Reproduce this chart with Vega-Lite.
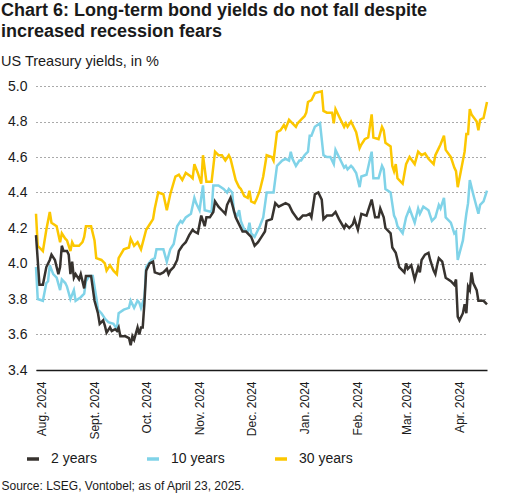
{
"$schema": "https://vega.github.io/schema/vega-lite/v6.json",
"width": 451, "height": 284,
"autosize": {"type": "none"},
"padding": {"left": 36, "top": 86, "right": 42, "bottom": 123},
"background": "white",
"title": {"text": ["Chart 6: Long-term bond yields do not fall despite", "increased recession fears"], "subtitle": "US Treasury yields, in %", "anchor": "start", "frame": "group", "dx": -35, "font": "Liberation Sans", "fontSize": 18, "fontWeight": "bold", "color": "#1a1a1a", "lineHeight": 21, "subtitleFont": "Liberation Sans", "subtitleFontSize": 14.5, "subtitleColor": "#1a1a1a", "subtitlePadding": 14, "offset": 11},
"config": {"view": {"stroke": null}, "font": "Liberation Sans"},
"datasets": {"y": [
{"date":"2024-07-29","series":"30 years","yield":4.28},{"date":"2024-07-30","series":"30 years","yield":4.10},{"date":"2024-08-02","series":"30 years","yield":4.07},{"date":"2024-08-04","series":"30 years","yield":4.19},{"date":"2024-08-06","series":"30 years","yield":4.29},{"date":"2024-08-07","series":"30 years","yield":4.23},{"date":"2024-08-10","series":"30 years","yield":4.21},{"date":"2024-08-12","series":"30 years","yield":4.12},{"date":"2024-08-13","series":"30 years","yield":4.17},{"date":"2024-08-15","series":"30 years","yield":4.14},{"date":"2024-08-16","series":"30 years","yield":4.13},{"date":"2024-08-18","series":"30 years","yield":4.07},{"date":"2024-08-19","series":"30 years","yield":4.12},{"date":"2024-08-20","series":"30 years","yield":4.10},{"date":"2024-08-23","series":"30 years","yield":4.10},{"date":"2024-08-25","series":"30 years","yield":4.12},{"date":"2024-08-26","series":"30 years","yield":4.15},{"date":"2024-08-27","series":"30 years","yield":4.21},{"date":"2024-08-30","series":"30 years","yield":4.21},{"date":"2024-09-01","series":"30 years","yield":4.13},{"date":"2024-09-02","series":"30 years","yield":4.03},{"date":"2024-09-05","series":"30 years","yield":4.02},{"date":"2024-09-07","series":"30 years","yield":4.00},{"date":"2024-09-08","series":"30 years","yield":3.96},{"date":"2024-09-10","series":"30 years","yield":3.99},{"date":"2024-09-12","series":"30 years","yield":3.96},{"date":"2024-09-14","series":"30 years","yield":3.94},{"date":"2024-09-15","series":"30 years","yield":4.03},{"date":"2024-09-18","series":"30 years","yield":4.08},{"date":"2024-09-21","series":"30 years","yield":4.09},{"date":"2024-09-22","series":"30 years","yield":4.14},{"date":"2024-09-24","series":"30 years","yield":4.10},{"date":"2024-09-26","series":"30 years","yield":4.12},{"date":"2024-09-28","series":"30 years","yield":4.08},{"date":"2024-10-01","series":"30 years","yield":4.19},{"date":"2024-10-03","series":"30 years","yield":4.22},{"date":"2024-10-05","series":"30 years","yield":4.25},{"date":"2024-10-06","series":"30 years","yield":4.31},{"date":"2024-10-08","series":"30 years","yield":4.40},{"date":"2024-10-11","series":"30 years","yield":4.39},{"date":"2024-10-13","series":"30 years","yield":4.30},{"date":"2024-10-15","series":"30 years","yield":4.39},{"date":"2024-10-18","series":"30 years","yield":4.49},{"date":"2024-10-20","series":"30 years","yield":4.50},{"date":"2024-10-22","series":"30 years","yield":4.47},{"date":"2024-10-24","series":"30 years","yield":4.51},{"date":"2024-10-27","series":"30 years","yield":4.49},{"date":"2024-10-28","series":"30 years","yield":4.48},{"date":"2024-10-29","series":"30 years","yield":4.56},{"date":"2024-10-31","series":"30 years","yield":4.51},{"date":"2024-11-02","series":"30 years","yield":4.45},{"date":"2024-11-03","series":"30 years","yield":4.61},{"date":"2024-11-05","series":"30 years","yield":4.46},{"date":"2024-11-08","series":"30 years","yield":4.46},{"date":"2024-11-10","series":"30 years","yield":4.63},{"date":"2024-11-12","series":"30 years","yield":4.61},{"date":"2024-11-14","series":"30 years","yield":4.61},{"date":"2024-11-16","series":"30 years","yield":4.58},{"date":"2024-11-18","series":"30 years","yield":4.61},{"date":"2024-11-19","series":"30 years","yield":4.59},{"date":"2024-11-22","series":"30 years","yield":4.47},{"date":"2024-11-24","series":"30 years","yield":4.43},{"date":"2024-11-25","series":"30 years","yield":4.42},{"date":"2024-11-27","series":"30 years","yield":4.38},{"date":"2024-11-29","series":"30 years","yield":4.37},{"date":"2024-11-30","series":"30 years","yield":4.41},{"date":"2024-12-01","series":"30 years","yield":4.35},{"date":"2024-12-03","series":"30 years","yield":4.34},{"date":"2024-12-04","series":"30 years","yield":4.36},{"date":"2024-12-06","series":"30 years","yield":4.41},{"date":"2024-12-08","series":"30 years","yield":4.49},{"date":"2024-12-10","series":"30 years","yield":4.61},{"date":"2024-12-13","series":"30 years","yield":4.60},{"date":"2024-12-14","series":"30 years","yield":4.58},{"date":"2024-12-16","series":"30 years","yield":4.74},{"date":"2024-12-18","series":"30 years","yield":4.75},{"date":"2024-12-20","series":"30 years","yield":4.78},{"date":"2024-12-21","series":"30 years","yield":4.76},{"date":"2024-12-23","series":"30 years","yield":4.81},{"date":"2024-12-25","series":"30 years","yield":4.79},{"date":"2024-12-27","series":"30 years","yield":4.77},{"date":"2024-12-28","series":"30 years","yield":4.79},{"date":"2024-12-30","series":"30 years","yield":4.81},{"date":"2025-01-01","series":"30 years","yield":4.83},{"date":"2025-01-02","series":"30 years","yield":4.85},{"date":"2025-01-03","series":"30 years","yield":4.91},{"date":"2025-01-05","series":"30 years","yield":4.92},{"date":"2025-01-07","series":"30 years","yield":4.96},{"date":"2025-01-11","series":"30 years","yield":4.97},{"date":"2025-01-12","series":"30 years","yield":4.86},{"date":"2025-01-14","series":"30 years","yield":4.85},{"date":"2025-01-17","series":"30 years","yield":4.85},{"date":"2025-01-18","series":"30 years","yield":4.79},{"date":"2025-01-19","series":"30 years","yield":4.87},{"date":"2025-01-21","series":"30 years","yield":4.83},{"date":"2025-01-24","series":"30 years","yield":4.77},{"date":"2025-01-25","series":"30 years","yield":4.79},{"date":"2025-01-26","series":"30 years","yield":4.77},{"date":"2025-01-28","series":"30 years","yield":4.80},{"date":"2025-01-29","series":"30 years","yield":4.78},{"date":"2025-01-31","series":"30 years","yield":4.74},{"date":"2025-02-02","series":"30 years","yield":4.65},{"date":"2025-02-03","series":"30 years","yield":4.67},{"date":"2025-02-05","series":"30 years","yield":4.70},{"date":"2025-02-07","series":"30 years","yield":4.71},{"date":"2025-02-09","series":"30 years","yield":4.84},{"date":"2025-02-10","series":"30 years","yield":4.71},{"date":"2025-02-13","series":"30 years","yield":4.70},{"date":"2025-02-15","series":"30 years","yield":4.77},{"date":"2025-02-16","series":"30 years","yield":4.75},{"date":"2025-02-17","series":"30 years","yield":4.68},{"date":"2025-02-20","series":"30 years","yield":4.66},{"date":"2025-02-21","series":"30 years","yield":4.55},{"date":"2025-02-22","series":"30 years","yield":4.52},{"date":"2025-02-23","series":"30 years","yield":4.56},{"date":"2025-02-24","series":"30 years","yield":4.48},{"date":"2025-02-26","series":"30 years","yield":4.46},{"date":"2025-02-27","series":"30 years","yield":4.45},{"date":"2025-03-01","series":"30 years","yield":4.56},{"date":"2025-03-03","series":"30 years","yield":4.60},{"date":"2025-03-06","series":"30 years","yield":4.56},{"date":"2025-03-08","series":"30 years","yield":4.63},{"date":"2025-03-10","series":"30 years","yield":4.61},{"date":"2025-03-12","series":"30 years","yield":4.62},{"date":"2025-03-14","series":"30 years","yield":4.59},{"date":"2025-03-17","series":"30 years","yield":4.56},{"date":"2025-03-18","series":"30 years","yield":4.61},{"date":"2025-03-20","series":"30 years","yield":4.65},{"date":"2025-03-21","series":"30 years","yield":4.67},{"date":"2025-03-23","series":"30 years","yield":4.72},{"date":"2025-03-24","series":"30 years","yield":4.64},{"date":"2025-03-27","series":"30 years","yield":4.60},{"date":"2025-03-29","series":"30 years","yield":4.54},{"date":"2025-03-30","series":"30 years","yield":4.52},{"date":"2025-03-31","series":"30 years","yield":4.43},{"date":"2025-04-02","series":"30 years","yield":4.53},{"date":"2025-04-04","series":"30 years","yield":4.63},{"date":"2025-04-05","series":"30 years","yield":4.73},{"date":"2025-04-06","series":"30 years","yield":4.73},{"date":"2025-04-07","series":"30 years","yield":4.87},{"date":"2025-04-08","series":"30 years","yield":4.84},{"date":"2025-04-11","series":"30 years","yield":4.80},{"date":"2025-04-12","series":"30 years","yield":4.75},{"date":"2025-04-13","series":"30 years","yield":4.81},{"date":"2025-04-15","series":"30 years","yield":4.82},{"date":"2025-04-17","series":"30 years","yield":4.91},
{"date":"2024-07-29","series":"10 years","yield":3.98},{"date":"2024-07-30","series":"10 years","yield":3.80},{"date":"2024-08-02","series":"10 years","yield":3.79},{"date":"2024-08-04","series":"10 years","yield":3.89},{"date":"2024-08-05","series":"10 years","yield":3.90},{"date":"2024-08-06","series":"10 years","yield":3.99},{"date":"2024-08-08","series":"10 years","yield":3.94},{"date":"2024-08-10","series":"10 years","yield":3.92},{"date":"2024-08-12","series":"10 years","yield":3.85},{"date":"2024-08-13","series":"10 years","yield":3.91},{"date":"2024-08-15","series":"10 years","yield":3.89},{"date":"2024-08-16","series":"10 years","yield":3.87},{"date":"2024-08-18","series":"10 years","yield":3.80},{"date":"2024-08-20","series":"10 years","yield":3.85},{"date":"2024-08-21","series":"10 years","yield":3.79},{"date":"2024-08-24","series":"10 years","yield":3.81},{"date":"2024-08-26","series":"10 years","yield":3.83},{"date":"2024-08-27","series":"10 years","yield":3.90},{"date":"2024-08-29","series":"10 years","yield":3.93},{"date":"2024-08-31","series":"10 years","yield":3.93},{"date":"2024-09-02","series":"10 years","yield":3.81},{"date":"2024-09-03","series":"10 years","yield":3.74},{"date":"2024-09-05","series":"10 years","yield":3.72},{"date":"2024-09-07","series":"10 years","yield":3.69},{"date":"2024-09-09","series":"10 years","yield":3.67},{"date":"2024-09-12","series":"10 years","yield":3.66},{"date":"2024-09-14","series":"10 years","yield":3.63},{"date":"2024-09-15","series":"10 years","yield":3.72},{"date":"2024-09-18","series":"10 years","yield":3.74},{"date":"2024-09-21","series":"10 years","yield":3.75},{"date":"2024-09-22","series":"10 years","yield":3.79},{"date":"2024-09-24","series":"10 years","yield":3.75},{"date":"2024-09-26","series":"10 years","yield":3.79},{"date":"2024-09-27","series":"10 years","yield":3.78},{"date":"2024-09-28","series":"10 years","yield":3.75},{"date":"2024-09-30","series":"10 years","yield":3.81},{"date":"2024-10-01","series":"10 years","yield":3.98},{"date":"2024-10-04","series":"10 years","yield":4.02},{"date":"2024-10-06","series":"10 years","yield":4.03},{"date":"2024-10-07","series":"10 years","yield":4.08},{"date":"2024-10-11","series":"10 years","yield":4.08},{"date":"2024-10-13","series":"10 years","yield":4.01},{"date":"2024-10-15","series":"10 years","yield":4.08},{"date":"2024-10-17","series":"10 years","yield":4.11},{"date":"2024-10-19","series":"10 years","yield":4.21},{"date":"2024-10-21","series":"10 years","yield":4.24},{"date":"2024-10-22","series":"10 years","yield":4.23},{"date":"2024-10-24","series":"10 years","yield":4.26},{"date":"2024-10-27","series":"10 years","yield":4.28},{"date":"2024-10-29","series":"10 years","yield":4.37},{"date":"2024-10-30","series":"10 years","yield":4.34},{"date":"2024-11-01","series":"10 years","yield":4.30},{"date":"2024-11-03","series":"10 years","yield":4.44},{"date":"2024-11-04","series":"10 years","yield":4.30},{"date":"2024-11-08","series":"10 years","yield":4.29},{"date":"2024-11-09","series":"10 years","yield":4.44},{"date":"2024-11-12","series":"10 years","yield":4.44},{"date":"2024-11-15","series":"10 years","yield":4.42},{"date":"2024-11-17","series":"10 years","yield":4.40},{"date":"2024-11-18","series":"10 years","yield":4.42},{"date":"2024-11-20","series":"10 years","yield":4.40},{"date":"2024-11-21","series":"10 years","yield":4.29},{"date":"2024-11-23","series":"10 years","yield":4.27},{"date":"2024-11-24","series":"10 years","yield":4.30},{"date":"2024-11-25","series":"10 years","yield":4.24},{"date":"2024-11-27","series":"10 years","yield":4.19},{"date":"2024-11-29","series":"10 years","yield":4.18},{"date":"2024-11-30","series":"10 years","yield":4.23},{"date":"2024-12-01","series":"10 years","yield":4.17},{"date":"2024-12-03","series":"10 years","yield":4.15},{"date":"2024-12-04","series":"10 years","yield":4.17},{"date":"2024-12-06","series":"10 years","yield":4.21},{"date":"2024-12-08","series":"10 years","yield":4.26},{"date":"2024-12-10","series":"10 years","yield":4.40},{"date":"2024-12-14","series":"10 years","yield":4.40},{"date":"2024-12-16","series":"10 years","yield":4.55},{"date":"2024-12-17","series":"10 years","yield":4.56},{"date":"2024-12-19","series":"10 years","yield":4.58},{"date":"2024-12-21","series":"10 years","yield":4.59},{"date":"2024-12-23","series":"10 years","yield":4.58},{"date":"2024-12-24","series":"10 years","yield":4.63},{"date":"2024-12-25","series":"10 years","yield":4.59},{"date":"2024-12-27","series":"10 years","yield":4.55},{"date":"2024-12-29","series":"10 years","yield":4.58},{"date":"2024-12-30","series":"10 years","yield":4.58},{"date":"2025-01-01","series":"10 years","yield":4.61},{"date":"2025-01-03","series":"10 years","yield":4.63},{"date":"2025-01-04","series":"10 years","yield":4.72},{"date":"2025-01-05","series":"10 years","yield":4.72},{"date":"2025-01-07","series":"10 years","yield":4.77},{"date":"2025-01-10","series":"10 years","yield":4.79},{"date":"2025-01-12","series":"10 years","yield":4.61},{"date":"2025-01-14","series":"10 years","yield":4.60},{"date":"2025-01-16","series":"10 years","yield":4.60},{"date":"2025-01-18","series":"10 years","yield":4.56},{"date":"2025-01-19","series":"10 years","yield":4.64},{"date":"2025-01-21","series":"10 years","yield":4.60},{"date":"2025-01-24","series":"10 years","yield":4.54},{"date":"2025-01-25","series":"10 years","yield":4.55},{"date":"2025-01-26","series":"10 years","yield":4.53},{"date":"2025-01-28","series":"10 years","yield":4.55},{"date":"2025-01-29","series":"10 years","yield":4.54},{"date":"2025-01-31","series":"10 years","yield":4.51},{"date":"2025-02-02","series":"10 years","yield":4.43},{"date":"2025-02-03","series":"10 years","yield":4.49},{"date":"2025-02-06","series":"10 years","yield":4.50},{"date":"2025-02-09","series":"10 years","yield":4.63},{"date":"2025-02-10","series":"10 years","yield":4.48},{"date":"2025-02-13","series":"10 years","yield":4.48},{"date":"2025-02-15","series":"10 years","yield":4.55},{"date":"2025-02-16","series":"10 years","yield":4.53},{"date":"2025-02-17","series":"10 years","yield":4.42},{"date":"2025-02-20","series":"10 years","yield":4.40},{"date":"2025-02-22","series":"10 years","yield":4.27},{"date":"2025-02-23","series":"10 years","yield":4.25},{"date":"2025-02-24","series":"10 years","yield":4.21},{"date":"2025-02-27","series":"10 years","yield":4.17},{"date":"2025-03-01","series":"10 years","yield":4.26},{"date":"2025-03-03","series":"10 years","yield":4.31},{"date":"2025-03-06","series":"10 years","yield":4.23},{"date":"2025-03-08","series":"10 years","yield":4.31},{"date":"2025-03-09","series":"10 years","yield":4.28},{"date":"2025-03-11","series":"10 years","yield":4.32},{"date":"2025-03-14","series":"10 years","yield":4.30},{"date":"2025-03-16","series":"10 years","yield":4.24},{"date":"2025-03-18","series":"10 years","yield":4.26},{"date":"2025-03-20","series":"10 years","yield":4.33},{"date":"2025-03-21","series":"10 years","yield":4.31},{"date":"2025-03-23","series":"10 years","yield":4.37},{"date":"2025-03-24","series":"10 years","yield":4.26},{"date":"2025-03-27","series":"10 years","yield":4.23},{"date":"2025-03-29","series":"10 years","yield":4.17},{"date":"2025-03-30","series":"10 years","yield":4.18},{"date":"2025-03-31","series":"10 years","yield":4.02},{"date":"2025-04-03","series":"10 years","yield":4.13},{"date":"2025-04-05","series":"10 years","yield":4.28},{"date":"2025-04-06","series":"10 years","yield":4.34},{"date":"2025-04-07","series":"10 years","yield":4.47},{"date":"2025-04-09","series":"10 years","yield":4.39},{"date":"2025-04-12","series":"10 years","yield":4.28},{"date":"2025-04-13","series":"10 years","yield":4.33},{"date":"2025-04-15","series":"10 years","yield":4.35},{"date":"2025-04-17","series":"10 years","yield":4.41},
{"date":"2024-07-29","series":"2 years","yield":4.16},{"date":"2024-07-31","series":"2 years","yield":3.88},{"date":"2024-08-02","series":"2 years","yield":3.88},{"date":"2024-08-04","series":"2 years","yield":3.98},{"date":"2024-08-06","series":"2 years","yield":4.02},{"date":"2024-08-07","series":"2 years","yield":4.05},{"date":"2024-08-09","series":"2 years","yield":4.02},{"date":"2024-08-11","series":"2 years","yield":3.94},{"date":"2024-08-12","series":"2 years","yield":3.98},{"date":"2024-08-13","series":"2 years","yield":4.10},{"date":"2024-08-14","series":"2 years","yield":4.07},{"date":"2024-08-16","series":"2 years","yield":4.07},{"date":"2024-08-17","series":"2 years","yield":4.05},{"date":"2024-08-18","series":"2 years","yield":3.94},{"date":"2024-08-19","series":"2 years","yield":4.01},{"date":"2024-08-20","series":"2 years","yield":3.92},{"date":"2024-08-21","series":"2 years","yield":3.94},{"date":"2024-08-23","series":"2 years","yield":3.91},{"date":"2024-08-24","series":"2 years","yield":3.94},{"date":"2024-08-26","series":"2 years","yield":3.86},{"date":"2024-08-27","series":"2 years","yield":3.93},{"date":"2024-08-30","series":"2 years","yield":3.93},{"date":"2024-09-01","series":"2 years","yield":3.79},{"date":"2024-09-03","series":"2 years","yield":3.72},{"date":"2024-09-04","series":"2 years","yield":3.66},{"date":"2024-09-06","series":"2 years","yield":3.68},{"date":"2024-09-07","series":"2 years","yield":3.65},{"date":"2024-09-08","series":"2 years","yield":3.61},{"date":"2024-09-10","series":"2 years","yield":3.64},{"date":"2024-09-11","series":"2 years","yield":3.62},{"date":"2024-09-13","series":"2 years","yield":3.63},{"date":"2024-09-14","series":"2 years","yield":3.62},{"date":"2024-09-15","series":"2 years","yield":3.64},{"date":"2024-09-16","series":"2 years","yield":3.59},{"date":"2024-09-19","series":"2 years","yield":3.59},{"date":"2024-09-21","series":"2 years","yield":3.58},{"date":"2024-09-22","series":"2 years","yield":3.54},{"date":"2024-09-23","series":"2 years","yield":3.59},{"date":"2024-09-24","series":"2 years","yield":3.57},{"date":"2024-09-26","series":"2 years","yield":3.64},{"date":"2024-09-27","series":"2 years","yield":3.60},{"date":"2024-09-28","series":"2 years","yield":3.64},{"date":"2024-09-29","series":"2 years","yield":3.64},{"date":"2024-09-30","series":"2 years","yield":3.78},{"date":"2024-10-01","series":"2 years","yield":3.96},{"date":"2024-10-03","series":"2 years","yield":4.00},{"date":"2024-10-05","series":"2 years","yield":4.01},{"date":"2024-10-06","series":"2 years","yield":3.95},{"date":"2024-10-09","series":"2 years","yield":3.94},{"date":"2024-10-11","series":"2 years","yield":3.95},{"date":"2024-10-13","series":"2 years","yield":3.97},{"date":"2024-10-14","series":"2 years","yield":3.94},{"date":"2024-10-15","series":"2 years","yield":3.96},{"date":"2024-10-17","series":"2 years","yield":3.98},{"date":"2024-10-19","series":"2 years","yield":4.02},{"date":"2024-10-20","series":"2 years","yield":4.07},{"date":"2024-10-22","series":"2 years","yield":4.10},{"date":"2024-10-24","series":"2 years","yield":4.12},{"date":"2024-10-26","series":"2 years","yield":4.16},{"date":"2024-10-28","series":"2 years","yield":4.19},{"date":"2024-10-29","series":"2 years","yield":4.18},{"date":"2024-10-31","series":"2 years","yield":4.17},{"date":"2024-11-02","series":"2 years","yield":4.27},{"date":"2024-11-04","series":"2 years","yield":4.21},{"date":"2024-11-05","series":"2 years","yield":4.26},{"date":"2024-11-07","series":"2 years","yield":4.26},{"date":"2024-11-09","series":"2 years","yield":4.29},{"date":"2024-11-10","series":"2 years","yield":4.35},{"date":"2024-11-12","series":"2 years","yield":4.32},{"date":"2024-11-14","series":"2 years","yield":4.30},{"date":"2024-11-16","series":"2 years","yield":4.28},{"date":"2024-11-17","series":"2 years","yield":4.33},{"date":"2024-11-19","series":"2 years","yield":4.37},{"date":"2024-11-22","series":"2 years","yield":4.26},{"date":"2024-11-23","series":"2 years","yield":4.24},{"date":"2024-11-26","series":"2 years","yield":4.18},{"date":"2024-11-28","series":"2 years","yield":4.18},{"date":"2024-12-01","series":"2 years","yield":4.15},{"date":"2024-12-03","series":"2 years","yield":4.10},{"date":"2024-12-05","series":"2 years","yield":4.12},{"date":"2024-12-07","series":"2 years","yield":4.15},{"date":"2024-12-09","series":"2 years","yield":4.18},{"date":"2024-12-10","series":"2 years","yield":4.24},{"date":"2024-12-13","series":"2 years","yield":4.25},{"date":"2024-12-15","series":"2 years","yield":4.34},{"date":"2024-12-17","series":"2 years","yield":4.32},{"date":"2024-12-19","series":"2 years","yield":4.33},{"date":"2024-12-21","series":"2 years","yield":4.34},{"date":"2024-12-23","series":"2 years","yield":4.33},{"date":"2024-12-25","series":"2 years","yield":4.29},{"date":"2024-12-28","series":"2 years","yield":4.25},{"date":"2024-12-29","series":"2 years","yield":4.25},{"date":"2024-12-31","series":"2 years","yield":4.27},{"date":"2025-01-02","series":"2 years","yield":4.27},{"date":"2025-01-04","series":"2 years","yield":4.28},{"date":"2025-01-05","series":"2 years","yield":4.26},{"date":"2025-01-07","series":"2 years","yield":4.39},{"date":"2025-01-09","series":"2 years","yield":4.40},{"date":"2025-01-11","series":"2 years","yield":4.36},{"date":"2025-01-12","series":"2 years","yield":4.25},{"date":"2025-01-14","series":"2 years","yield":4.27},{"date":"2025-01-17","series":"2 years","yield":4.27},{"date":"2025-01-19","series":"2 years","yield":4.29},{"date":"2025-01-21","series":"2 years","yield":4.25},{"date":"2025-01-24","series":"2 years","yield":4.20},{"date":"2025-01-25","series":"2 years","yield":4.22},{"date":"2025-01-27","series":"2 years","yield":4.20},{"date":"2025-01-29","series":"2 years","yield":4.22},{"date":"2025-01-30","series":"2 years","yield":4.25},{"date":"2025-02-01","series":"2 years","yield":4.19},{"date":"2025-02-03","series":"2 years","yield":4.28},{"date":"2025-02-06","series":"2 years","yield":4.27},{"date":"2025-02-09","series":"2 years","yield":4.36},{"date":"2025-02-11","series":"2 years","yield":4.26},{"date":"2025-02-13","series":"2 years","yield":4.26},{"date":"2025-02-14","series":"2 years","yield":4.31},{"date":"2025-02-16","series":"2 years","yield":4.26},{"date":"2025-02-17","series":"2 years","yield":4.20},{"date":"2025-02-20","series":"2 years","yield":4.17},{"date":"2025-02-21","series":"2 years","yield":4.09},{"date":"2025-02-23","series":"2 years","yield":4.06},{"date":"2025-02-25","series":"2 years","yield":3.98},{"date":"2025-02-28","series":"2 years","yield":3.95},{"date":"2025-03-01","series":"2 years","yield":4.00},{"date":"2025-03-02","series":"2 years","yield":3.97},{"date":"2025-03-04","series":"2 years","yield":3.99},{"date":"2025-03-06","series":"2 years","yield":3.91},{"date":"2025-03-08","series":"2 years","yield":3.98},{"date":"2025-03-09","series":"2 years","yield":3.95},{"date":"2025-03-10","series":"2 years","yield":4.02},{"date":"2025-03-12","series":"2 years","yield":4.05},{"date":"2025-03-14","series":"2 years","yield":4.06},{"date":"2025-03-15","series":"2 years","yield":4.02},{"date":"2025-03-17","series":"2 years","yield":3.96},{"date":"2025-03-18","series":"2 years","yield":3.94},{"date":"2025-03-19","series":"2 years","yield":3.99},{"date":"2025-03-20","series":"2 years","yield":4.03},{"date":"2025-03-22","series":"2 years","yield":4.01},{"date":"2025-03-24","series":"2 years","yield":3.92},{"date":"2025-03-27","series":"2 years","yield":3.90},{"date":"2025-03-29","series":"2 years","yield":3.88},{"date":"2025-03-30","series":"2 years","yield":3.91},{"date":"2025-03-31","series":"2 years","yield":3.70},{"date":"2025-04-01","series":"2 years","yield":3.68},{"date":"2025-04-03","series":"2 years","yield":3.72},{"date":"2025-04-04","series":"2 years","yield":3.77},{"date":"2025-04-05","series":"2 years","yield":3.72},{"date":"2025-04-06","series":"2 years","yield":3.87},{"date":"2025-04-07","series":"2 years","yield":3.85},{"date":"2025-04-08","series":"2 years","yield":3.95},{"date":"2025-04-09","series":"2 years","yield":3.89},{"date":"2025-04-11","series":"2 years","yield":3.85},{"date":"2025-04-12","series":"2 years","yield":3.79},{"date":"2025-04-14","series":"2 years","yield":3.79},{"date":"2025-04-15","series":"2 years","yield":3.79},{"date":"2025-04-17","series":"2 years","yield":3.77}
]},
"data": {"name": "y"},
"mark": {"type": "line", "strokeWidth": 2.5, "interpolate": "linear"},
"encoding": {
  "x": {"field": "date", "type": "temporal",
    "scale": {"type": "utc", "domain": [{"year": 2024, "month": 7, "date": 29, "utc": true}, {"year": 2025, "month": 4, "date": 17, "utc": true}]},
    "axis": {
      "values": [{"year": 2024, "month": 8, "date": 1, "utc": true}, {"year": 2024, "month": 9, "date": 1, "utc": true}, {"year": 2024, "month": 10, "date": 1, "utc": true}, {"year": 2024, "month": 11, "date": 1, "utc": true}, {"year": 2024, "month": 12, "date": 1, "utc": true}, {"year": 2025, "month": 1, "date": 1, "utc": true}, {"year": 2025, "month": 2, "date": 1, "utc": true}, {"year": 2025, "month": 3, "date": 1, "utc": true}, {"year": 2025, "month": 4, "date": 1, "utc": true}],
      "labelExpr": "['Jan.','Feb.','Mar.','Apr.','May','June','July','Aug.','Sept.','Oct.','Nov.','Dec.'][utcmonth(datum.value)] + ' 2024'",
      "labelAngle": -90, "labelFontSize": 12, "labelColor": "#1a1a1a", "labelPadding": 11,
      "labelFlush": false, "labelOverlap": false, "labelBound": false,
      "ticks": false, "grid": false, "domainColor": "#1a1a1a", "domainWidth": 1.5,
      "title": "Source: LSEG, Vontobel; as of April 23, 2025.", "titleFontSize": 12, "titleFontWeight": "normal", "titleColor": "#1a1a1a",
      "titleAnchor": "start", "titleAlign": "left", "titleBaseline": "alphabetic", "titleX": -35, "titleY": 119
    }
  },
  "y": {"field": "yield", "type": "quantitative",
    "scale": {"domain": [3.4, 5.0], "zero": false, "nice": false},
    "axis": {"values": [3.4, 3.6, 3.8, 4.0, 4.2, 4.4, 4.6, 4.8, 5.0], "format": ".1f", "title": null, "domain": false, "ticks": false,
      "labelPadding": 9, "labelFontSize": 14, "labelColor": "#1a1a1a", "labelFlush": false,
      "gridDash": [1, 3], "gridColor": "#555555", "gridWidth": 1}
  },
  "color": {"field": "series", "type": "nominal",
    "scale": {"domain": ["2 years", "10 years", "30 years"], "range": ["#37332f", "#80d3e8", "#fcc700"]},
    "legend": {"orient": "none", "legendX": -11, "legendY": 365, "direction": "horizontal", "title": null,
      "symbolType": "stroke", "symbolSize": 144, "symbolStrokeWidth": 3.5, "labelFontSize": 14, "labelOffset": 10,
      "columnPadding": 43, "labelColor": "#1a1a1a", "padding": 0}
  }
}
}
